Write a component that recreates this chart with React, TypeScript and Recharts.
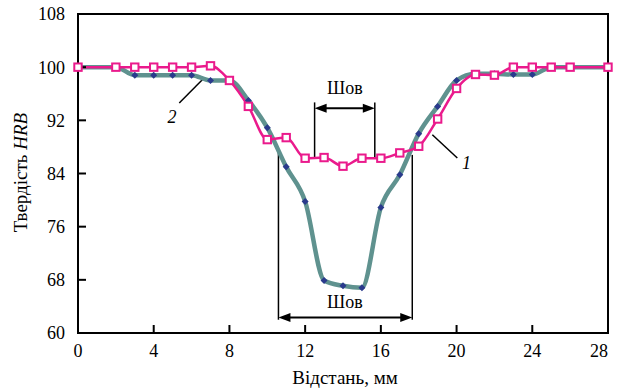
import React from 'react';
import { LineChart, Line, XAxis, YAxis, ReferenceLine, ReferenceDot, ReferenceArea } from 'recharts';

if (typeof document !== 'undefined') {
  document.body.style.margin = '0';
}

// ---- data ----
const distances = [0, 2, 3, 4, 5, 6, 7, 8, 9, 10, 11, 12, 13, 14, 15, 16, 17, 18, 19, 20, 21, 22, 23, 24, 25, 26, 28];
const hardness1 = [100, 100, 100, 100, 100, 100, 100.2, 98, 94.1, 89.1, 89.4, 86.3, 86.4, 85.1, 86.3, 86.3, 87.1, 88.1, 92.2, 96.8, 98.9, 98.8, 100, 100, 100, 100, 100];
const hardness2 = [100, 100, 98.8, 98.8, 98.8, 98.8, 98, 98, 95, 90.9, 85, 79.8, 67.9, 67.1, 66.8, 78.9, 83.8, 90, 94.1, 98, 99, 99, 98.9, 98.9, 100, 100, 100];
const xTicks = [0, 4, 8, 12, 16, 20, 24, 28];
const yTicks = [60, 68, 76, 84, 92, 100, 108];

// annotation values (data coordinates)
const upperSeam = { x1: 12.5, x2: 15.68, yTop: 94.7, yBottom: 86.3, yArrow: 93.8, labelX: 14.1, labelY: 96.9 };
const lowerSeam = { x1: 10.59, x2: 17.66, yTop1: 87.6, yTop2: 86.8, yBottom: 62.0, yArrow: 62.35, labelX: 14.1, labelY: 64.6 };
const curveLabels = [
  { text: '2', x: 4.96, y: 92.5, lx1: 5.35, ly1: 94.6, lx2: 6.62, ly2: 98.26 },
  { text: '1', x: 20.53, y: 85.6, lx1: 18.72, ly1: 89.84, lx2: 20.04, ly2: 86.33 },
];

const data = distances.map((d, i) => ({ d, h1: hardness1[i], h2: hardness2[i] }));

const FONT = '"Liberation Serif", "Times New Roman", serif';
const PINK = '#ea1a8c';
const TEAL = '#5f928f';
const NAVY = '#2a3a8c';

const SquareDot = (props: any) => {
  const { cx, cy, index } = props;
  if (cx == null || cy == null) return <g key={index} />;
  return <rect key={index} x={cx - 3.7} y={cy - 3.7} width={7.4} height={7.4} fill="#fff" stroke={PINK} strokeWidth={2} />;
};

const DiamondDot = (props: any) => {
  const { cx, cy, index } = props;
  if (cx == null || cy == null) return <g key={index} />;
  const r = 3.5;
  return <polygon key={index} points={`${cx},${cy - r} ${cx + r},${cy} ${cx},${cy + r} ${cx - r},${cy}`} fill={NAVY} />;
};

const ArrowLine = (props: any) => {
  const { x1, y1, x2 } = props;
  const L = 12;
  const W = 4.5;
  const left = Math.min(x1, x2);
  const right = Math.max(x1, x2);
  const y = y1;
  return (
    <g>
      <line x1={left + L - 1} y1={y} x2={right - L + 1} y2={y} stroke="#000" strokeWidth={2} />
      <polygon points={`${left},${y} ${left + L},${y - W} ${left + L},${y + W}`} fill="#000" />
      <polygon points={`${right},${y} ${right - L},${y - W} ${right - L},${y + W}`} fill="#000" />
    </g>
  );
};

const TextShape = (text: string, italic: boolean) => (props: any) => {
  const { cx, cy } = props;
  return (
    <text x={cx} y={cy} textAnchor="middle" dominantBaseline="central" fontFamily={FONT} fontSize={18} fontStyle={italic ? 'italic' : 'normal'} fill="#000">
      {text}
    </text>
  );
};

const XTick = (props: any) => {
  const { x, y, payload } = props;
  const shift = payload && payload.value === 28 ? -9 : 0;
  return (
    <text x={x + shift} y={y} dy="0.71em" textAnchor="middle" fontFamily={FONT} fontSize={18} fill="#000">
      {payload.value}
    </text>
  );
};

const YLabel = (props: any) => {
  const vb = props.viewBox || {};
  const cx = (vb.x ?? 0) + 27;
  const cy = (vb.y ?? 0) + (vb.height ?? 0) / 2 - 1;
  return (
    <text x={cx} y={cy} transform={`rotate(-90, ${cx}, ${cy})`} textAnchor="middle" fontFamily={FONT} fontSize={19} fill="#000">
      Твердість <tspan fontStyle="italic">HRB</tspan>
    </text>
  );
};

const XLabel = (props: any) => {
  const vb = props.viewBox || {};
  const cx = (vb.x ?? 0) + (vb.width ?? 0) / 2 + 2;
  const cy = (vb.y ?? 0) + 51;
  return (
    <text x={cx} y={cy} textAnchor="middle" fontFamily={FONT} fontSize={19} fill="#000">
      Відстань, мм
    </text>
  );
};

const tickStyle = { fill: '#000', fontSize: 18, fontFamily: FONT };
const blackLine = { stroke: '#000', strokeWidth: 2 };

export default function App() {
  return (
    <div style={{ width: 618, height: 388, background: '#fff' }}>
      <LineChart width={618} height={388} data={data} margin={{ top: 14, right: 10, bottom: 0, left: 0 }}>
        <XAxis
          dataKey="d"
          type="number"
          domain={[0, 28]}
          ticks={xTicks}
          height={55}
          tickSize={-8}
          tickMargin={19}
          tick={<XTick />}
          axisLine={blackLine}
          tickLine={blackLine}
          label={<XLabel />}
        />
        <YAxis
          type="number"
          domain={[60, 108]}
          ticks={yTicks}
          width={78}
          tickSize={-8}
          tickMargin={21}
          tick={tickStyle}
          axisLine={blackLine}
          tickLine={blackLine}
          label={<YLabel />}
        />
        <ReferenceArea x1={0} x2={28} y1={60} y2={108} fill="none" stroke="#000" strokeWidth={2} fillOpacity={0} />

        {/* lower seam */}
        <ReferenceLine segment={[{ x: lowerSeam.x1, y: lowerSeam.yTop1 }, { x: lowerSeam.x1, y: lowerSeam.yBottom }]} stroke="#000" strokeWidth={1.5} />
        <ReferenceLine segment={[{ x: lowerSeam.x2, y: lowerSeam.yTop2 }, { x: lowerSeam.x2, y: lowerSeam.yBottom }]} stroke="#000" strokeWidth={1.5} />
        <ReferenceLine segment={[{ x: lowerSeam.x1, y: lowerSeam.yArrow }, { x: lowerSeam.x2, y: lowerSeam.yArrow }]} shape={ArrowLine} />
        <ReferenceDot x={lowerSeam.labelX} y={lowerSeam.labelY} r={0} shape={TextShape('Шов', false)} />

        {/* upper seam */}
        <ReferenceLine segment={[{ x: upperSeam.x1, y: upperSeam.yTop }, { x: upperSeam.x1, y: upperSeam.yBottom }]} stroke="#000" strokeWidth={1.5} />
        <ReferenceLine segment={[{ x: upperSeam.x2, y: upperSeam.yTop }, { x: upperSeam.x2, y: upperSeam.yBottom }]} stroke="#000" strokeWidth={1.5} />
        <ReferenceLine segment={[{ x: upperSeam.x1, y: upperSeam.yArrow }, { x: upperSeam.x2, y: upperSeam.yArrow }]} shape={ArrowLine} />
        <ReferenceDot x={upperSeam.labelX} y={upperSeam.labelY} r={0} shape={TextShape('Шов', false)} />

        {curveLabels.map((c) => (
          <ReferenceLine key={'l' + c.text} segment={[{ x: c.lx1, y: c.ly1 }, { x: c.lx2, y: c.ly2 }]} stroke="#000" strokeWidth={1.5} />
        ))}
        {curveLabels.map((c) => (
          <ReferenceDot key={'t' + c.text} x={c.x} y={c.y} r={0} shape={TextShape(c.text, true)} />
        ))}

        <Line type="monotone" dataKey="h2" stroke={TEAL} strokeWidth={4.5} dot={DiamondDot} activeDot={false} isAnimationActive={false} />
        <Line type="monotone" dataKey="h1" stroke={PINK} strokeWidth={2.5} dot={SquareDot} activeDot={false} isAnimationActive={false} />
      </LineChart>
    </div>
  );
}
